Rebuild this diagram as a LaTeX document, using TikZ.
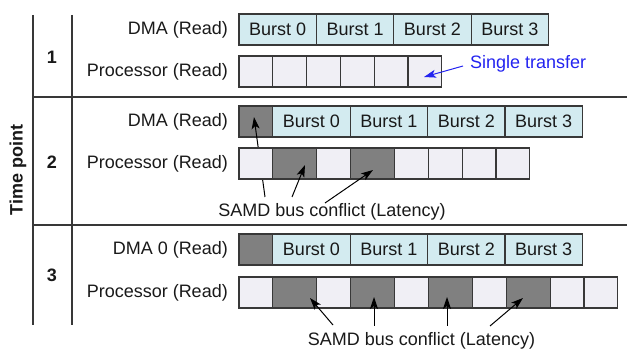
\documentclass[tikz,border=0pt]{standalone}
\usepackage{fontspec}
\setmainfont{Liberation Sans}
\usetikzlibrary{arrows.meta,positioning}
\definecolor{burstfill}{HTML}{D3EBF0}
\definecolor{idlefill}{HTML}{F0EFF5}
\definecolor{waitfill}{HTML}{808080}
\definecolor{edgecol}{HTML}{383838}
\definecolor{notecol}{HTML}{2323F0}
\begin{document}
\begin{tikzpicture}[x=1pt,y=-1pt,
  every node/.style={font=\fontsize{18}{21}\selectfont, text=black!90},
  cell/.style={draw=edgecol, line width=1.2pt, minimum height=31pt, inner sep=0pt, outer sep=0pt, anchor=north west},
  burst/.style={cell, fill=burstfill, minimum width=77.4pt},
  idle/.style={cell, fill=idlefill, minimum width=33.8pt},
  wait/.style={cell, fill=waitfill, minimum width=33.8pt},
  longwait/.style={cell, fill=waitfill, minimum width=44pt},
  rowlabel/.style={inner sep=0pt, left=11pt of #1},
  stamp/.style={font=\fontsize{18}{21}\selectfont\bfseries},
  gridline/.style={draw=edgecol, line width=1.2pt},
  pointer/.style={draw=black, line width=1pt, -{Stealth[length=12pt,width=8pt,inset=3pt]}},
]
\useasboundingbox (0,0) rectangle (627,352);

% table frame
\coordinate (vo1) at (33,15);  \coordinate (vo2) at (33,325);
\coordinate (vi1) at (72,15);  \coordinate (vi2) at (72,325);
\coordinate (h1a) at (33,97);  \coordinate (h1b) at (627,97);
\coordinate (h2a) at (33,225); \coordinate (h2b) at (627,225);
\draw[gridline] (vo1) -- (vo2);
\draw[gridline] (vi1) -- (vi2);
\draw[gridline] (h1a) -- (h1b);
\draw[gridline] (h2a) -- (h2b);

\node[stamp, rotate=90] (axis) at (18,170) {Time point};
\node[stamp] (t1) at (52,57) {1};
\node[stamp] (t2) at (52,162) {2};
\node[stamp] (t3) at (52,275) {3};

% time point 1
\node[burst] (d1a) at (239,14) {Burst 0};
\node[burst] (d1b) at (d1a.north east) {Burst 1};
\node[burst] (d1c) at (d1b.north east) {Burst 2};
\node[burst] (d1d) at (d1c.north east) {Burst 3};
\node[idle] (p1a) at (239,56) {};
\node[idle] (p1b) at (p1a.north east) {};
\node[idle] (p1c) at (p1b.north east) {};
\node[idle] (p1d) at (p1c.north east) {};
\node[idle] (p1e) at (p1d.north east) {};
\node[idle] (p1f) at (p1e.north east) {};
\node[rowlabel=d1a] (ld1) {DMA (Read)};
\node[rowlabel=p1a] (lp1) {Processor (Read)};
\node[inner sep=0pt, anchor=west, text=notecol] (single) at (470,64) {Single transfer};
\coordinate (st0) at (463,66);
\coordinate (st1) at (424,77);
\draw[pointer, draw=notecol] (st0) -- (st1);

% time point 2
\node[wait] (d2w) at (239,106) {};
\node[burst] (d2a) at (d2w.north east) {Burst 0};
\node[burst] (d2b) at (d2a.north east) {Burst 1};
\node[burst] (d2c) at (d2b.north east) {Burst 2};
\node[burst] (d2d) at (d2c.north east) {Burst 3};
\node[rowlabel=d2w] (ld2) {DMA (Read)};
\node (c2) at (332,212) {SAMD bus conflict (Latency)};
\coordinate (c2a0) at (265,197); \coordinate (c2a1) at (254,117);
\coordinate (c2b0) at (292,197); \coordinate (c2b1) at (305,165);
\coordinate (c2c0) at (325,203); \coordinate (c2c1) at (373,170);
\draw[pointer] (c2a0) -- (c2a1);
\node[idle] (p2a) at (239,148) {};
\node[longwait] (p2b) at (p2a.north east) {};
\node[idle] (p2c) at (p2b.north east) {};
\node[longwait] (p2d) at (p2c.north east) {};
\node[idle] (p2e) at (p2d.north east) {};
\node[idle] (p2f) at (p2e.north east) {};
\node[idle] (p2g) at (p2f.north east) {};
\node[idle] (p2h) at (p2g.north east) {};
\node[rowlabel=p2a] (lp2) {Processor (Read)};
\draw[pointer] (c2b0) -- (c2b1);
\draw[pointer] (c2c0) -- (c2c1);

% time point 3
\node[wait] (d3w) at (239,234) {};
\node[burst] (d3a) at (d3w.north east) {Burst 0};
\node[burst] (d3b) at (d3a.north east) {Burst 1};
\node[burst] (d3c) at (d3b.north east) {Burst 2};
\node[burst] (d3d) at (d3c.north east) {Burst 3};
\node[rowlabel=d3w] (ld3) {DMA 0 (Read)};
\node[idle] (p3a) at (239,277) {};
\node[longwait] (p3b) at (p3a.north east) {};
\node[idle] (p3c) at (p3b.north east) {};
\node[longwait] (p3d) at (p3c.north east) {};
\node[idle] (p3e) at (p3d.north east) {};
\node[longwait] (p3f) at (p3e.north east) {};
\node[idle] (p3g) at (p3f.north east) {};
\node[longwait] (p3h) at (p3g.north east) {};
\node[idle] (p3i) at (p3h.north east) {};
\node[idle] (p3j) at (p3i.north east) {};
\node[rowlabel=p3a] (lp3) {Processor (Read)};
\node (c3) at (421.5,341) {SAMD bus conflict (Latency)};
\coordinate (c3a0) at (333,325); \coordinate (c3a1) at (310,298);
\coordinate (c3b0) at (374,326); \coordinate (c3b1) at (374,297);
\coordinate (c3c0) at (447,326); \coordinate (c3c1) at (447,297);
\coordinate (c3d0) at (490,326); \coordinate (c3d1) at (523,298);
\draw[pointer] (c3a0) -- (c3a1);
\draw[pointer] (c3b0) -- (c3b1);
\draw[pointer] (c3c0) -- (c3c1);
\draw[pointer] (c3d0) -- (c3d1);
\end{tikzpicture}
\end{document}
